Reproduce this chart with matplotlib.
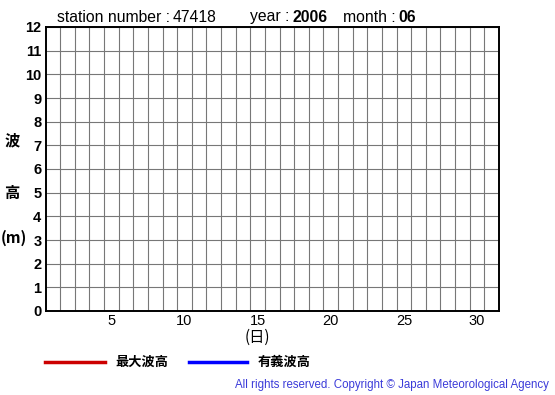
import matplotlib
matplotlib.use("Agg")
import matplotlib.pyplot as plt
import numpy as np

# header / data
station = "47418"
year = "2006"
month = "06"
days = np.arange(1, 32)                  # 31 columns, no observations this month
max_wave = []                            # 最大波高 (none recorded)
sig_wave = []                            # 有義波高 (none recorded)
x_ticks = [5, 10, 15, 20, 25, 30]
y_ticks = list(range(0, 13))

plt.rcParams["font.family"] = ["Liberation Sans", "Noto Sans CJK JP", "DejaVu Sans"]
JP = ["Noto Sans CJK JP", "DejaVu Sans"]

W, H = 555, 395
fig = plt.figure(figsize=(W / 100, H / 100), dpi=100)
ax = fig.add_axes([45.5 / W, 1 - 311 / H, (499 - 45.5) / W, (311 - 27) / H])

ax.set_xlim(days[0] - 0.5, days[-1] + 0.5)
ax.set_ylim(y_ticks[0], y_ticks[-1])
ax.plot(days[:len(max_wave)], max_wave, color="#cc0000", lw=2.5)
ax.plot(days[:len(sig_wave)], sig_wave, color="#0000ff", lw=2.5)

ax.set_xticks(days[:-1] + 0.5, minor=True)
ax.set_xticks(x_ticks)
ax.set_yticks(y_ticks)
ax.grid(True, which="minor", axis="x", color="#777777", lw=0.8)
ax.grid(True, which="major", axis="y", color="#777777", lw=0.8)
ax.tick_params(axis="x", which="both", length=0, labelsize=10.5, pad=2)
ax.tick_params(axis="y", length=0, labelsize=10.5, pad=3)
for lab in ax.get_yticklabels():
    lab.set_fontweight("bold")
for s in ax.spines.values():
    s.set_linewidth(1.4)

def px(x, y):
    return x / W, 1 - y / H

# header: plain label followed directly by a bold value
renderer = fig.canvas.get_renderer()
def header(x, label, value, bold):
    t = fig.text(*px(x, 17), label, fontsize=11.3, va="center")
    x_end = t.get_window_extent(renderer).x1
    fig.text(x_end / W + 3 / W, 1 - 17 / H, value, fontsize=11.3,
             fontweight="bold" if bold else "normal", va="center")

header(57, "station number :", station, False)
header(250, "year :", year, True)
header(343, "month :", month, True)

for ch, yy in [("波", 140), ("高", 193)]:
    fig.text(*px(12, yy), ch, family=JP, fontsize=11, fontweight="bold", ha="center", va="center")
fig.text(*px(1, 238), "(m)", family=JP, fontsize=11, fontweight="bold", ha="left", va="center")
fig.text(*px(257, 337), "(日)", family=JP, fontsize=11, ha="center", va="center")

# legend
fig.add_artist(plt.Line2D([45 / W, 105 / W], [1 - 362 / H] * 2, color="#cc0000", lw=2.5))
fig.text(*px(115, 362), "最大波高", family=JP, fontsize=9.5, fontweight="bold", va="center")
fig.add_artist(plt.Line2D([189 / W, 247 / W], [1 - 362 / H] * 2, color="#0000ff", lw=2.5))
fig.text(*px(258, 362), "有義波高", family=JP, fontsize=9.5, fontweight="bold", va="center")

fig.text(*px(549, 385), "All rights reserved. Copyright © Japan Meteorological Agency",
         fontsize=8.3, color="#3b3bd9", ha="right", va="center")

fig.savefig("out.png", dpi=100)
